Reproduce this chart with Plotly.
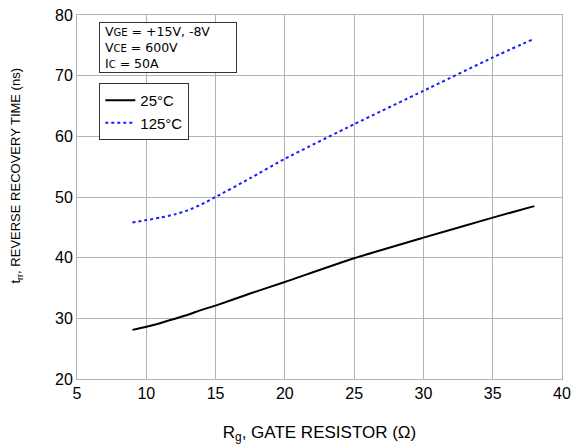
import plotly.graph_objects as go

rg = [9, 10, 11, 12, 13, 14, 15, 17.5, 20, 25, 30, 35, 38]
trr_25c = [28.1, 28.6, 29.2, 29.9, 30.6, 31.4, 32.1, 34.1, 36.0, 39.9, 43.3, 46.6, 48.5]
trr_125c = [45.8, 46.2, 46.6, 47.1, 47.8, 48.8, 50.0, 53.1, 56.3, 62.0, 67.5, 73.0, 76.1]

FONT = "Liberation Sans, Arial, sans-serif"
GRID = "#b4b4b4"

fig = go.Figure()
fig.add_trace(go.Scatter(
    x=rg, y=trr_25c, mode="lines", name="25°C",
    line={"color": "black", "width": 2, "shape": "spline", "smoothing": 0.5},
))
fig.add_trace(go.Scatter(
    x=rg, y=trr_125c, mode="lines", name="125°C",
    line={"color": "#1a1aff", "width": 2, "dash": "dot", "shape": "spline", "smoothing": 0.5},
))

axis_common = dict(
    showgrid=True, gridcolor=GRID, gridwidth=1,
    showline=True, linecolor=GRID, linewidth=1, mirror=True,
    ticks="", zeroline=False, automargin=False,
    tickfont={"size": 16, "color": "black", "family": FONT},
)
fig.update_xaxes(
    range=[5, 40], dtick=5, **axis_common,
    title={"text": "R<sub>g</sub>, GATE RESISTOR (Ω)", "standoff": 24,
           "font": {"size": 17, "color": "black", "family": FONT}},
)
fig.update_yaxes(range=[20, 80], dtick=10, **axis_common)

# y title as a rotated annotation so it can sit a little above the axis centre, like the original
fig.add_annotation(
    text="t<sub>rr</sub>, REVERSE RECOVERY TIME (ns)", xref="paper", yref="paper",
    x=-0.146, y=0.558, textangle=-90, showarrow=False,
    font={"size": 13, "color": "black", "family": FONT},
)

small = "<span style='font-size:10px'>{}</span>"
cond = ("&nbsp;V" + small.format("GE") + " = +15V, -8V<br>"
        "&nbsp;V" + small.format("CE") + " = 600V<br>"
        "&nbsp;I" + small.format("C") + " = 50A")
fig.add_annotation(
    text=cond, xref="paper", yref="paper", x=0.046, y=0.982,
    xanchor="left", yanchor="top", showarrow=False, align="left",
    width=134, height=47,
    bordercolor="#333", borderwidth=1, borderpad=1, bgcolor="white",
    font={"size": 12.5, "color": "black", "family": "DejaVu Sans, sans-serif"},
)

fig.update_layout(
    width=574, height=446,
    template="plotly_white",
    plot_bgcolor="white", paper_bgcolor="white",
    margin={"l": 77, "r": 12, "t": 15, "b": 67},
    font={"family": FONT, "color": "black"},
    legend={
        "x": 0.046, "y": 0.813, "xanchor": "left", "yanchor": "top",
        "bordercolor": "#333", "borderwidth": 1, "bgcolor": "white",
        "font": {"size": 15, "color": "black", "family": FONT},
        "tracegroupgap": 0, "itemwidth": 30,
    },
    showlegend=True,
)

# the page body has a default 8px margin; drop it so the figure sits at the window corner
fig.write_html("out.html", config={"displayModeBar": False},
               post_script="document.body.style.margin='0';")
